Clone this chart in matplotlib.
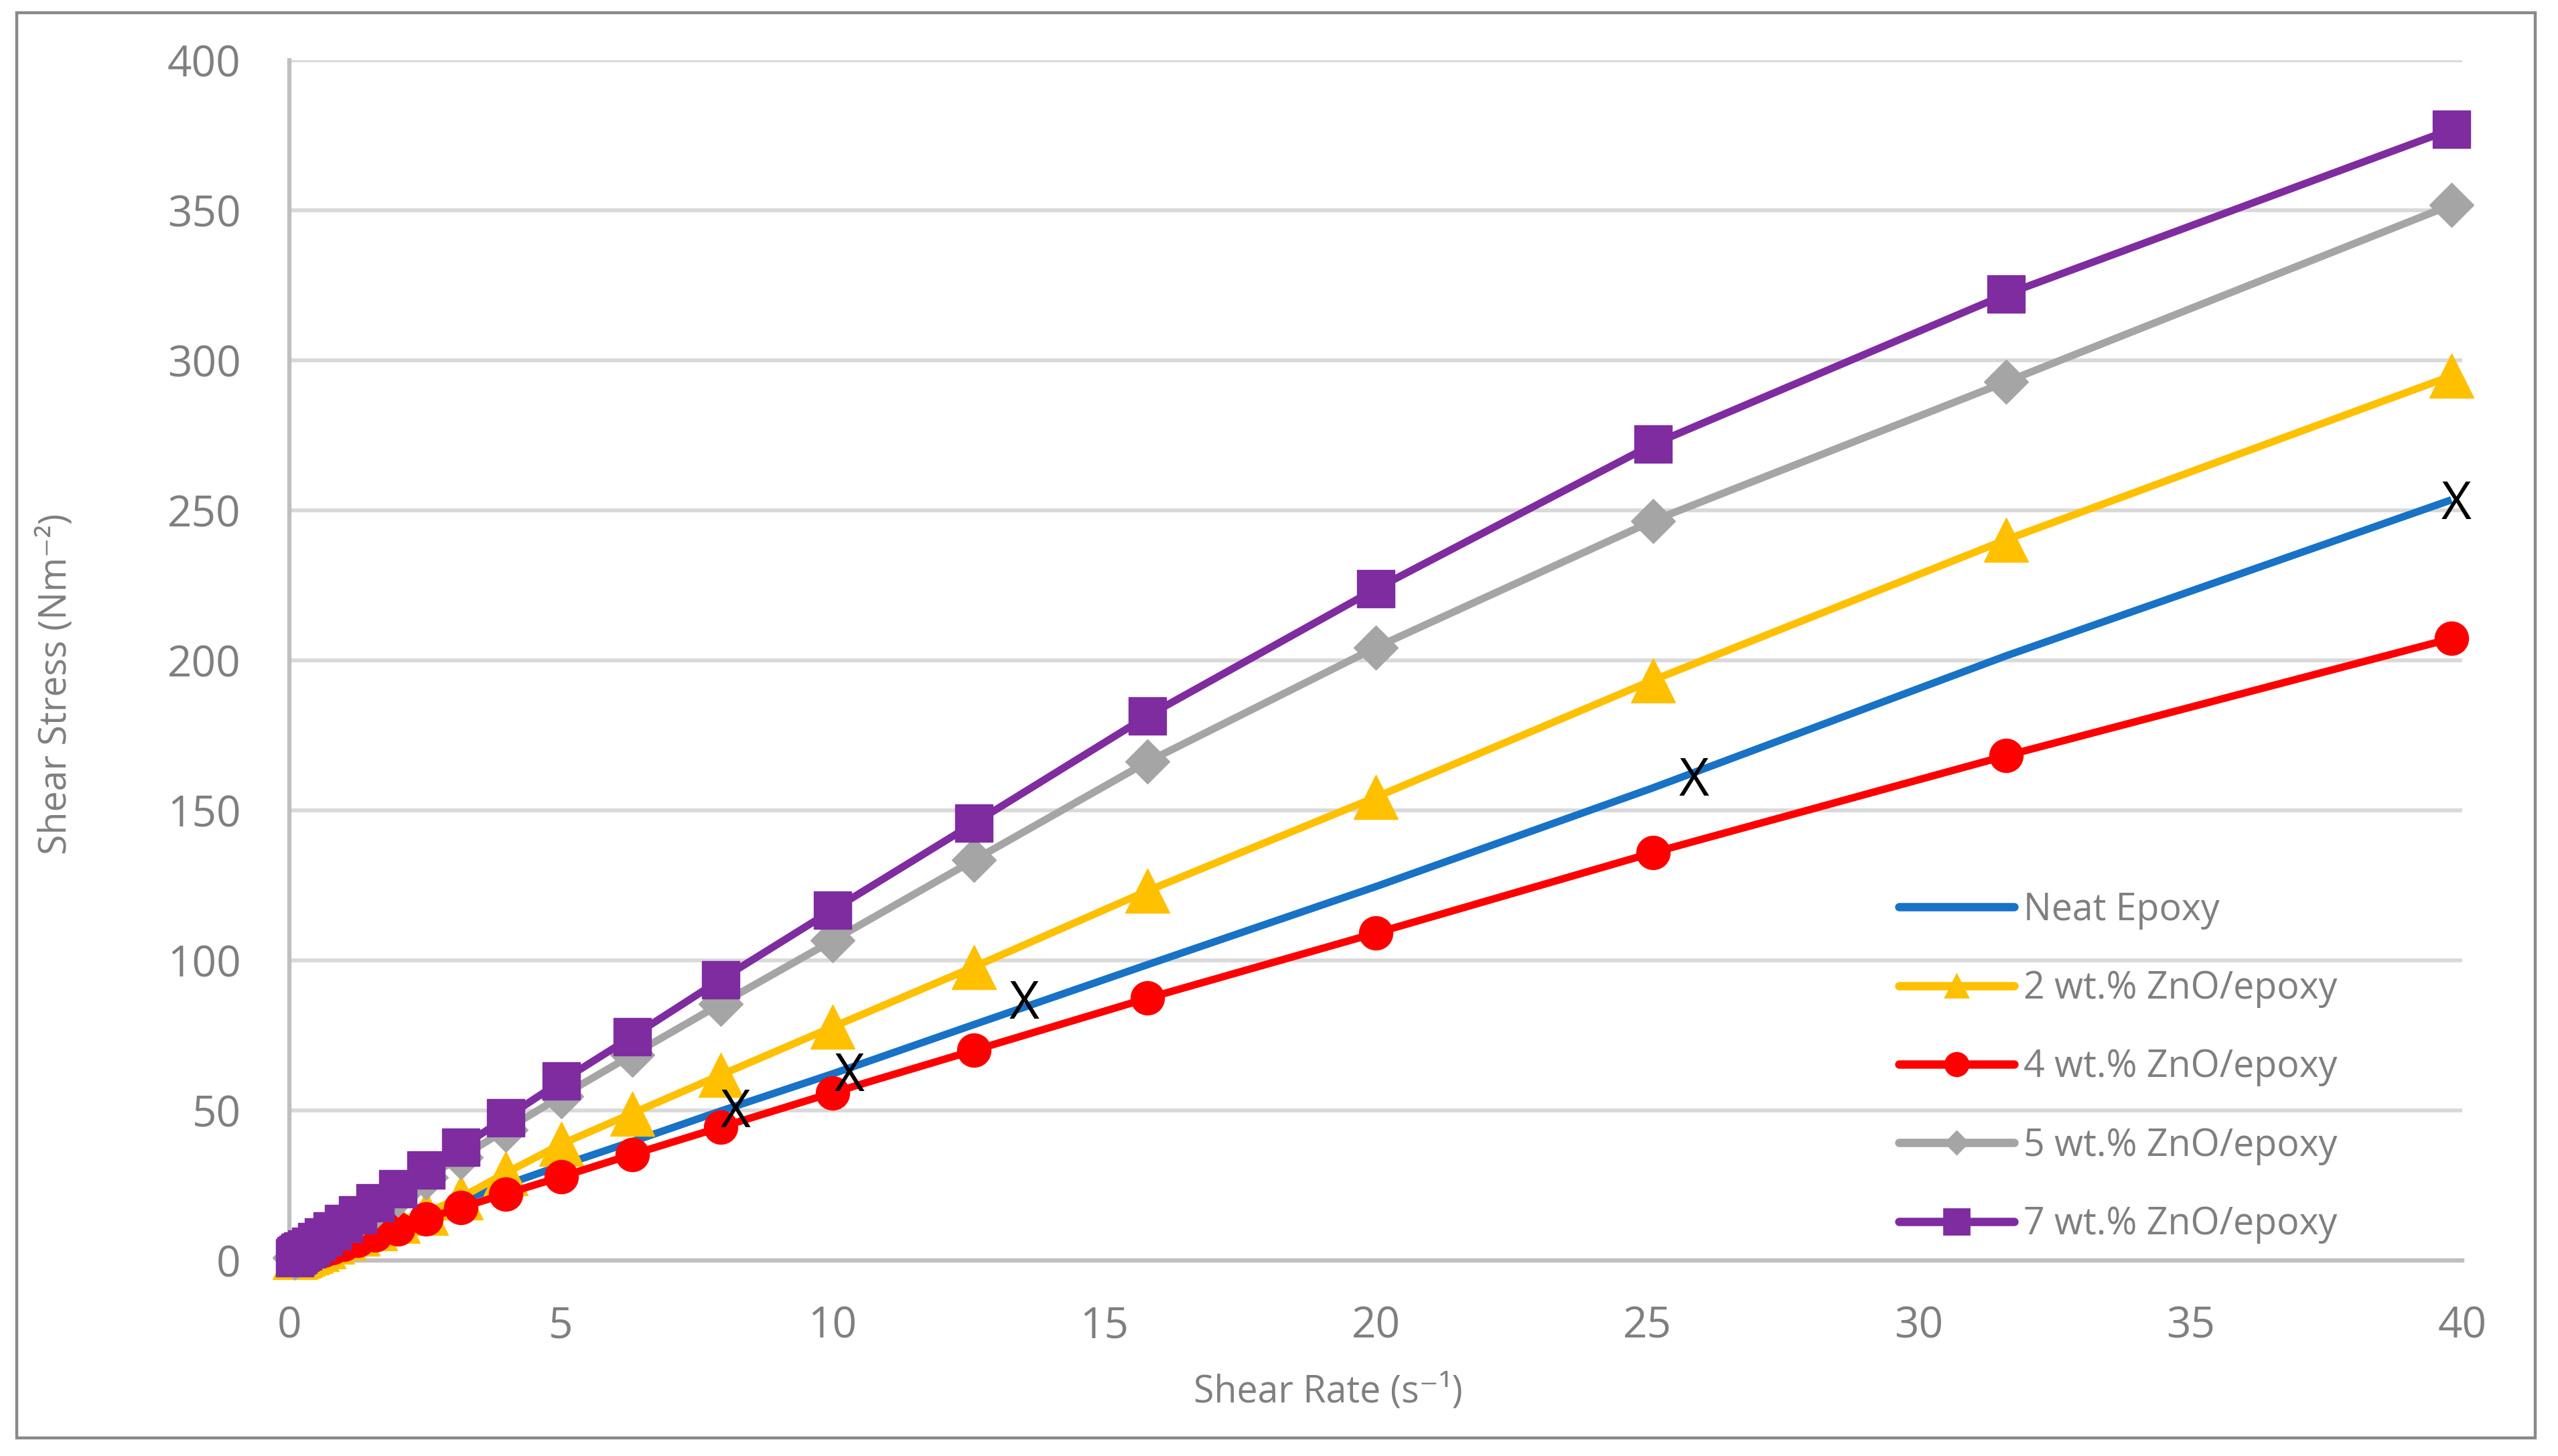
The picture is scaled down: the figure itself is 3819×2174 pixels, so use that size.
import matplotlib
matplotlib.use('Agg')
import matplotlib.pyplot as plt
from matplotlib.lines import Line2D
from matplotlib.patches import Rectangle

plt.rcParams['font.family'] = ['Open Sans', 'DejaVu Sans']

# shear rate (s^-1), log-spaced steps from the rheometer
shear_rate = [0.1, 0.126, 0.158, 0.2, 0.251, 0.316, 0.398, 0.501, 0.631, 0.794,
              1.0, 1.26, 1.58, 2.0, 2.51, 3.16, 3.98, 5.01, 6.31, 7.94,
              10.0, 12.6, 15.8, 20.0, 25.1, 31.6, 39.8]

# shear stress (Nm^-2)
neat_epoxy = [0.6, 0.8, 1.0, 1.3, 1.6, 2.0, 2.5, 3.2, 4.0, 5.0,
              6.3, 8.0, 10.0, 12.6, 15.9, 20.0, 25.2, 31.7, 39.6, 49.8,
              62.2, 78.6, 98.6, 124.6, 157.5, 201.5, 253.5]
zno_2 = [1.1, 1.4, 1.6, 1.9, 2.3, 2.7, 3.1, 3.8, 4.8, 6.2,
         7.6, 9.0, 10.7, 13.2, 15.8, 21.0, 29.1, 38.8, 49.0, 61.8,
         77.8, 97.8, 123.2, 154.4, 193.4, 240.2, 294.8]
zno_4 = [0.5, 0.7, 0.9, 1.2, 1.5, 1.9, 2.3, 2.8, 3.4, 4.3,
         5.4, 6.8, 8.5, 10.6, 13.9, 17.6, 22.2, 27.9, 35.3, 44.4,
         55.9, 70.0, 87.4, 109.1, 135.9, 168.2, 207.3]
zno_5 = [1.0, 1.4, 1.9, 2.4, 2.9, 3.6, 4.4, 5.7, 7.1, 9.0,
         11.2, 14.0, 17.6, 21.9, 27.6, 34.4, 43.5, 54.8, 68.5, 85.5,
         106.6, 133.4, 166.2, 204.3, 246.5, 292.8, 351.8]
zno_7 = [1.0, 1.5, 2.0, 2.6, 3.2, 3.9, 4.75, 6.25, 7.8, 9.8,
         12.2, 15.2, 19.3, 24.0, 30.1, 37.7, 47.5, 59.8, 74.6, 93.6,
         116.8, 145.7, 181.5, 223.8, 272.0, 322.0, 377.0]

# hand-placed "X" marks on the neat epoxy curve
x_mark_rate = [8.21, 10.31, 13.53, 25.86, 39.89]
x_mark_stress = [51.2, 63.1, 87.2, 161.6, 253.8]

labels = ['Neat Epoxy', '2 wt.% ZnO/epoxy', '4 wt.% ZnO/epoxy',
          '5 wt.% ZnO/epoxy', '7 wt.% ZnO/epoxy']
colors = ['#1872C6', '#FFC000', '#FF0000', '#A5A5A5', '#7F2CA0']
markers = [None, '^', 'o', 'D', 's']
marker_sizes = [0, 24, 18, 17, 20]
legend_marker_sizes = [0, 12.5, 12.5, 8.5, 14]

text_gray = '#7F7F7F'

fig = plt.figure(figsize=(19.095, 10.87), dpi=200)
ax = fig.add_axes([0.1131, 0.1343, 0.8495, 0.8243])

all_series = [neat_epoxy, zno_2, zno_4, zno_5, zno_7]
for i, values in enumerate(all_series):
    ax.plot(shear_rate, values, color=colors[i], lw=4, marker=markers[i],
            markersize=marker_sizes[i], markerfacecolor=colors[i],
            markeredgecolor=colors[i], markeredgewidth=0.5,
            clip_on=False, zorder=3 + i, solid_capstyle='butt')

for xv, yv in zip(x_mark_rate, x_mark_stress):
    ax.text(xv, yv, 'X', ha='center', va='center_baseline', fontsize=28,
            color='black', zorder=20)

ax.set_xlim(0, 40)
ax.set_ylim(0, 400)
ax.set_xticks(range(0, 41, 5))
ax.set_yticks(range(0, 401, 50))

ax.set_axisbelow(True)
ax.yaxis.grid(True, color='#D9D9D9', lw=2.1)
ax.xaxis.grid(False)
for side in ['top', 'right']:
    ax.spines[side].set_visible(False)
for side in ['left', 'bottom']:
    ax.spines[side].set_color('#BFBFBF')
    ax.spines[side].set_linewidth(2.3)

ax.tick_params(axis='both', length=0, labelsize=23, labelcolor=text_gray)
ax.tick_params(axis='x', pad=24)
ax.tick_params(axis='y', pad=26)

fig.text(0.5192, 0.0437, 'Shear Rate (s\u207b\u00b9)', ha='center', va='center',
         fontsize=20, color=text_gray)
fig.text(0.0223, 0.5304, 'Shear Stress (Nm\u207b\u00b2)', ha='center', va='center',
         fontsize=20, color=text_gray, rotation=90)

handles = []
for i in range(len(labels)):
    handles.append(Line2D([0], [0], color=colors[i], lw=4.5, marker=markers[i],
                          markersize=legend_marker_sizes[i],
                          markerfacecolor=colors[i], markeredgecolor=colors[i],
                          solid_capstyle='round'))
leg = ax.legend(handles, labels, loc='center left',
                bbox_to_anchor=(0.7423, 0.2668), bbox_transform=fig.transFigure,
                frameon=False, fontsize=20, handlelength=3.1, handletextpad=0.25,
                labelspacing=1.085, borderpad=0, borderaxespad=0)
for t in leg.get_texts():
    t.set_color(text_gray)

# outer chart border
fig.patches.append(Rectangle((25 / 3819, 1 - 2147 / 2174), 3760 / 3819, 2128 / 2174,
                             transform=fig.transFigure, fill=False,
                             edgecolor='#898989', lw=1.6))

fig.savefig('out.png', dpi=200)
